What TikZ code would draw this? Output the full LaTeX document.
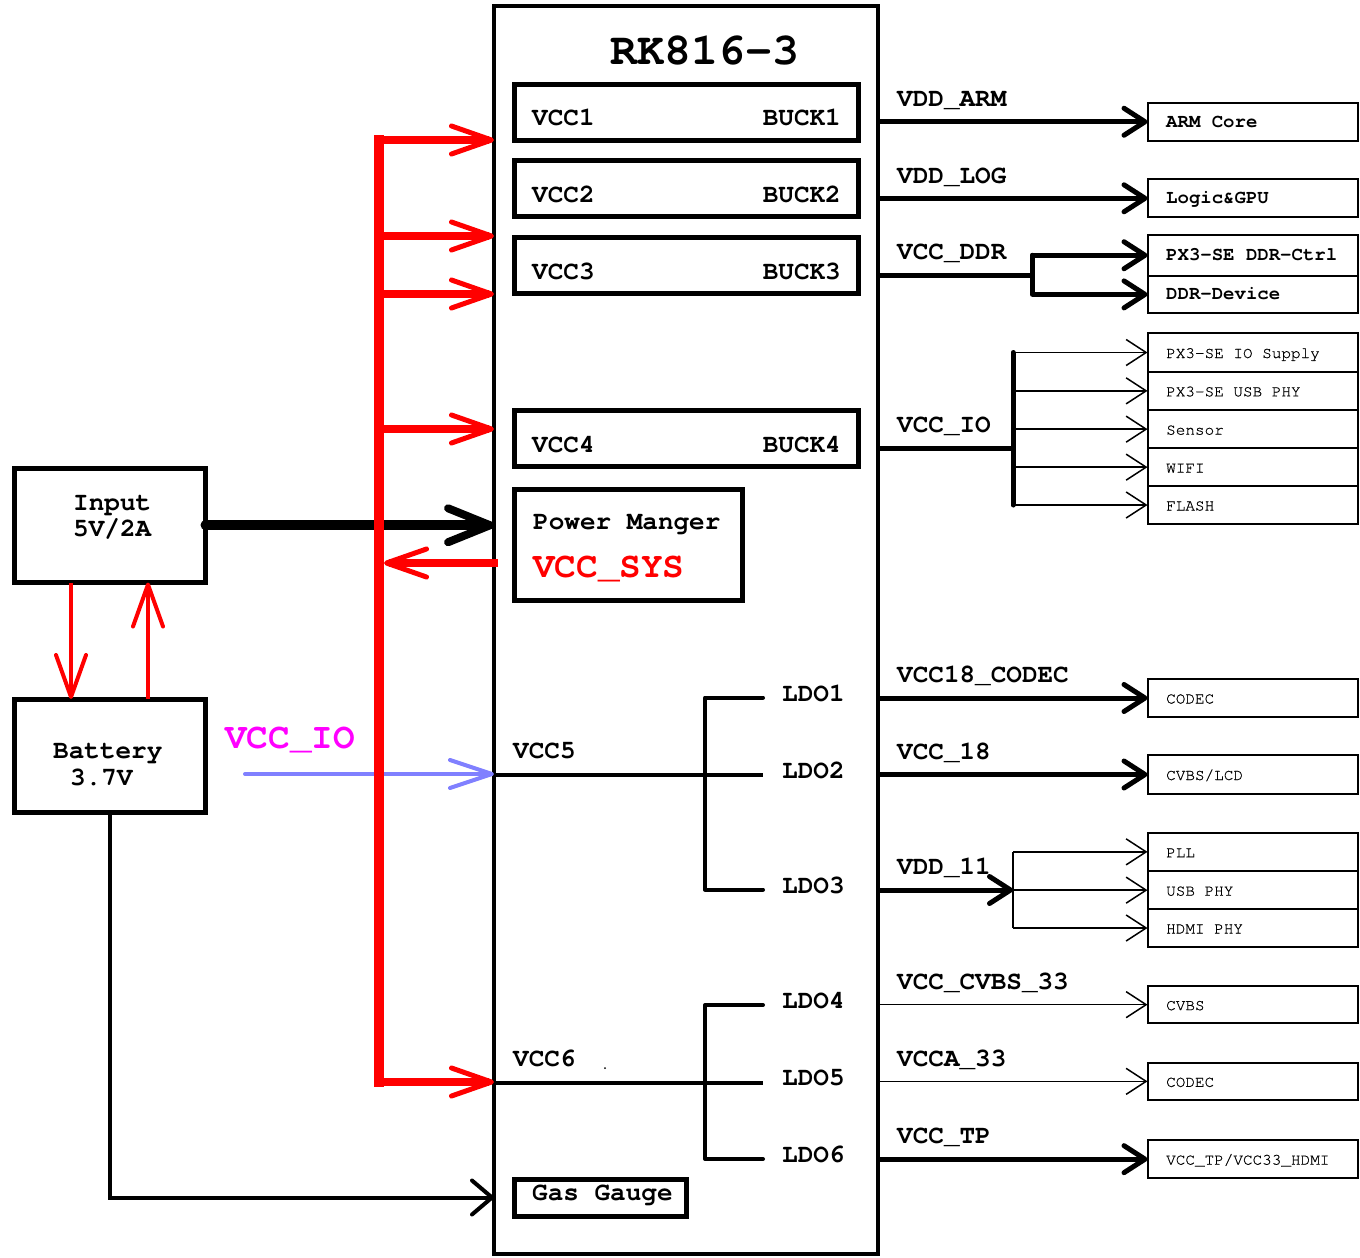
\documentclass[tikz,border=0pt]{standalone}
\usepackage{fontspec}
\setmainfont{texgyrecursor}[Extension=.otf, UprightFont=*-regular, BoldFont=*-bold, ItalicFont=*-italic, BoldItalicFont=*-bolditalic]
\newfontfamily\devfont{texgyrecursor}[Extension=.otf, UprightFont=*-regular, FakeBold=0.6]
\usetikzlibrary{arrows.meta}
\definecolor{pwrred}{RGB}{255,0,0}
\definecolor{ioblue}{RGB}{128,128,255}
\definecolor{iomag}{RGB}{255,0,255}
\tikzset{
  B/.style={font=\fontsize{#1}{#1}\selectfont\bfseries, inner sep=0pt},
  Rg/.style={font=\fontsize{#1}{#1}\selectfont\devfont\bfseries, inner sep=0pt},
  frame/.style={draw, line width=#1, inner sep=0pt, outer sep=0pt},
  devbox/.style={draw, line width=2pt, inner sep=0pt, outer sep=0pt},
  wire/.style={line width=4pt},
  thkarr/.style={line width=5pt, -{Straight Barb[length=21pt,width=27pt,line width=5pt,round]}},
  thnarr/.style={line width=1.5pt, -{Straight Barb[length=20pt,width=26pt,line width=1.5pt]}},
  busarr/.style={pwrred, line width=8pt, -{Straight Barb[length=40pt,width=28pt,line width=5pt,round]}},
  redv/.style={pwrred, line width=4pt, -{Straight Barb[length=42pt,width=30pt,line width=4pt,round]}},
}
\newcommand\rectnode[6]{\node[#1, minimum width={#5pt-#3pt}, minimum height={#6pt-#4pt}, anchor=north west] (#2) at (#3,#4) {};}
\newcommand\devb[5]{\rectnode{devbox}{#1}{1147.5}{#2}{1358}{#3}\node[#5, anchor=base west] (#1t) at (1166,{(#2+#3)/2+5.5}) {#4};}
\begin{document}
\begin{tikzpicture}[x=1pt,y=-1pt]
\useasboundingbox (0,0) rectangle (1360,1258);

% main chip
\rectnode{frame=4pt}{rk}{494}{6}{878}{1254}
\node[B=45, anchor=base] (title) at (705,64) {RK816-3};

% buck boxes
\rectnode{frame=5pt}{bk1}{514}{84}{858}{140}
\rectnode{frame=5pt}{bk2}{514}{160.5}{858}{216.5}
\rectnode{frame=5pt}{bk3}{514}{237.5}{858}{293.5}
\rectnode{frame=5pt}{bk4}{514}{410.5}{858}{466.5}
\node[B=26, anchor=base west] (v1) at (532,125) {VCC1};
\node[B=26, anchor=base east] (b1) at (841,125) {BUCK1};
\node[B=26, anchor=base west] (v2) at (532,202) {VCC2};
\node[B=26, anchor=base east] (b2) at (841,202) {BUCK2};
\node[B=26, anchor=base west] (v3) at (532,279) {VCC3};
\node[B=26, anchor=base east] (b3) at (841,279) {BUCK3};
\node[B=26, anchor=base west] (v4) at (532,452) {VCC4};
\node[B=26, anchor=base east] (b4) at (841,452) {BUCK4};

% power manager
\rectnode{frame=5pt}{pm}{514.5}{489.5}{742.5}{600.5}
\node[B=26, anchor=base west] (pmt) at (533,529) {Power Manger};
\node[B=36, anchor=base west, text=pwrred] (sys) at (533,577) {VCC\_SYS};

% gas gauge
\rectnode{frame=5pt}{gg}{514}{1179}{686}{1216}
\node[B=26, anchor=base west] (ggt) at (532,1200) {Gas Gauge};

% LDOs
\coordinate (j5t) at (705,697.5);
\coordinate (j5b) at (705,889.5);
\coordinate (l1e) at (763,697.5);
\coordinate (l2e) at (763,775);
\coordinate (l3e) at (763,889.5);
\draw[wire] (l2e -| rk.west) -- (l2e);
\draw[wire, line cap=round, line join=round] (l1e) -- (j5t) -- (j5b) -- (l3e);
\node[B=26, anchor=base west] (vcc5) at (513,758) {VCC5};
\node[B=26, anchor=base west] (ldo1) at (782,701) {LDO1};
\node[B=26, anchor=base west] (ldo2) at (782,778) {LDO2};
\node[B=26, anchor=base west] (ldo3) at (782,893) {LDO3};

\coordinate (j6t) at (705,1005);
\coordinate (j6b) at (705,1159);
\coordinate (l4e) at (763,1005);
\coordinate (l5e) at (763,1082.5);
\coordinate (l6e) at (763,1159);
\draw[wire] (l5e -| rk.west) -- (l5e);
\draw[wire, line cap=round, line join=round] (l4e) -- (j6t) -- (j6b) -- (l6e);
\node[B=26, anchor=base west] (vcc6) at (513,1066) {VCC6};
\node[B=26, anchor=base west] (ldo4) at (782,1008) {LDO4};
\node[B=26, anchor=base west] (ldo5) at (782,1085) {LDO5};
\node[B=26, anchor=base west] (ldo6) at (782,1162) {LDO6};
\fill (605,1068) circle (1pt);

% input and battery
\rectnode{frame=5pt}{inp}{14.5}{468}{205.5}{582.5}
\rectnode{frame=5pt}{bat}{14.5}{699}{205.5}{812.5}
\node[B=26, anchor=base west] (inp1) at (73,510) {Input};
\node[B=26, anchor=base west] (inp2) at (73,536) {5V/2A};
\node[B=26, anchor=base west] (bat1) at (53,758) {Battery};
\node[B=26, anchor=base west] (bat2) at (70,785) {3.7V};
\draw[redv] ([xshift=56.5pt]inp.south west) -- ([xshift=56.5pt]bat.north west);
\draw[redv] ([xshift=133.5pt]bat.north west) -- ([xshift=133.5pt]inp.south west);

\draw[line width=4pt, line join=miter, -{Straight Barb[length=20pt,width=34pt,round]}] (bat.south) |- (gg.west -| rk.west);

\draw[line width=10pt, line cap=round, -{Straight Barb[length=42pt,width=34pt,line width=8pt,round]}] (inp.east) -- (inp.east -| rk.west);

\coordinate (ioin) at (245,774);
\draw[ioblue, line width=4pt, line cap=round, -{Straight Barb[length=42pt,width=28pt,round]}] (ioin) -- (ioin -| rk.west);
\node[B=36, anchor=base west, text=iomag] (ioL) at (225,748) {VCC\_IO};

% red bus
\coordinate (bustop) at (379,135);
\coordinate (busbot) at (379,1087);
\foreach \yy/\nm in {140/t1,236/t2,294/t3,429/t4,1082/t5}{
  \coordinate (\nm) at (375,\yy);
  \draw[busarr] (\nm) -- (\nm -| rk.west);
}
\coordinate (sysst) at (498,563);
\coordinate (sysend) at (384,563);
\draw[busarr] (sysst) -- (sysend);
\draw[pwrred, line width=10pt] (bustop) -- (busbot);

% right devices
\devb{arm}{102.5}{141}{ARM Core}{B=19}
\devb{logic}{179.3}{217.3}{Logic\&GPU}{B=19}
\devb{ddr1}{235}{275.5}{PX3-SE DDR-Ctrl}{B=19}
\devb{ddr2}{275.5}{313.3}{DDR-Device}{B=19}
\devb{io1}{333.3}{371.7}{PX3-SE IO Supply}{Rg=16}
\devb{io2}{371.7}{410}{PX3-SE USB PHY}{Rg=16}
\devb{io3}{410}{448.3}{Sensor}{Rg=16}
\devb{io4}{448.3}{486}{WIFI}{Rg=16}
\devb{io5}{486}{524}{FLASH}{Rg=16}
\devb{codecA}{679}{717}{CODEC}{Rg=16}
\devb{cvbslcd}{755}{794}{CVBS/LCD}{Rg=16}
\devb{pll}{832.7}{871}{PLL}{Rg=16}
\devb{usb}{871}{909.3}{USB PHY}{Rg=16}
\devb{hdmi}{909.3}{946.7}{HDMI PHY}{Rg=16}
\devb{cvbs}{986}{1023.3}{CVBS}{Rg=16}
\devb{codecB}{1062.7}{1100}{CODEC}{Rg=16}
\devb{tp}{1140}{1178.3}{VCC\_TP/VCC33\_HDMI}{Rg=16}

% right labels
\node[B=26, anchor=base west] (nARM) at (897,106) {VDD\_ARM};
\node[B=26, anchor=base west] (nLOG) at (897,183) {VDD\_LOG};
\node[B=26, anchor=base west] (nDDR) at (897,259) {VCC\_DDR};
\node[B=26, anchor=base west] (nIO) at (897,432) {VCC\_IO};
\node[B=26, anchor=base west] (nC18) at (897,682) {VCC18\_CODEC};
\node[B=26, anchor=base west] (n18) at (897,759) {VCC\_18};
\node[B=26, anchor=base west] (n11) at (897,874) {VDD\_11};
\node[B=26, anchor=base west] (nCV) at (897,989) {VCC\_CVBS\_33};
\node[B=26, anchor=base west] (nA33) at (897,1066) {VCCA\_33};
\node[B=26, anchor=base west] (nTP) at (897,1143) {VCC\_TP};

% right connectors
\draw[thkarr] (arm.west -| rk.east) -- (arm.west);
\draw[thkarr] (logic.west -| rk.east) -- (logic.west);

\coordinate (ddrj) at (1032,275);
\draw[line width=5pt] (ddrj -| rk.east) -- (ddrj);
\draw[line width=5pt, line cap=round] (ddr1.west -| ddrj) -- (ddr2.west -| ddrj);
\draw[thkarr] (ddr1.west -| ddrj) -- (ddr1.west);
\draw[thkarr] (ddr2.west -| ddrj) -- (ddr2.west);

\coordinate (ioj) at (1013,448.3);
\draw[line width=5pt] (ioj -| rk.east) -- (ioj);
\draw[line width=5pt, line cap=round] (io1.west -| ioj) -- (io5.west -| ioj);
\foreach \b in {io1,io2,io3,io4,io5}{
  \draw[thnarr] (\b.west -| ioj) -- (\b.west);
}

\draw[thkarr] (codecA.west -| rk.east) -- (codecA.west);
\draw[thkarr] (cvbslcd.west -| rk.east) -- (cvbslcd.west);

\coordinate (j11) at (1013,890);
\draw[thkarr] (j11 -| rk.east) -- (j11);
\draw[line width=1.5pt] (pll.west -| j11) -- (hdmi.west -| j11);
\foreach \b in {pll,usb,hdmi}{
  \draw[thnarr] (\b.west -| j11) -- (\b.west);
}

\draw[thnarr] (cvbs.west -| rk.east) -- (cvbs.west);
\draw[thnarr] (codecB.west -| rk.east) -- (codecB.west);
\draw[thkarr] (tp.west -| rk.east) -- (tp.west);

\end{tikzpicture}
\end{document}
